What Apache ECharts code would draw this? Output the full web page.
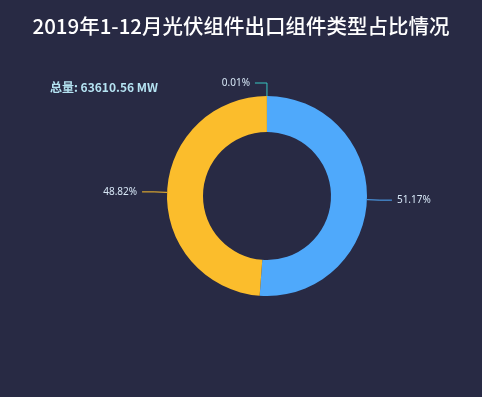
<!DOCTYPE html>
<html><head><meta charset="utf-8">
<script src="https://cdn.jsdelivr.net/npm/echarts@6/dist/echarts.min.js"></script>
<style>html,body{margin:0;padding:0;background:#282a44;}#c{width:482px;height:397px;}</style>
</head><body><div id="c"></div>
<script>
const categories = ['单晶组件', '多晶组件', '其他'];
const shares = [51.17, 48.82, 0.01];
const colors = ['#4fa9fb', '#fbbd2c', '#37c6c0'];
const titleText = '2019年1-12月光伏组件出口组件类型占比情况';
const totalText = '总量: 63610.56 MW';

const chart = echarts.init(document.getElementById('c'));
chart.setOption({
  backgroundColor: '#282a44',
  title: [{
    text: titleText, left: 'center', top: 11,
    textStyle: {color: '#ffffff', fontSize: 20.5, fontWeight: 500, fontFamily: 'Noto Sans CJK SC'}
  }, {
    text: totalText, left: 45, top: 76,
    textStyle: {color: '#b5e3f2', fontSize: 12, fontWeight: 'bold', fontFamily: 'Noto Sans CJK SC'}
  }],
  series: [{
    type: 'pie',
    center: [267, 196],
    radius: [64, 100],
    startAngle: 90,
    clockwise: true,
    avoidLabelOverlap: false,
    data: categories.map((c, i) => ({name: c, value: shares[i], itemStyle: {color: colors[i]}})),
    label: {
      formatter: p => p.value.toFixed(2) + '%',
      color: '#d6e6f5', fontSize: 10, fontFamily: 'Noto Sans'
    },
    labelLine: {length: 13, length2: 12, lineStyle: {width: 1}}
  }]
});
</script></body></html>
